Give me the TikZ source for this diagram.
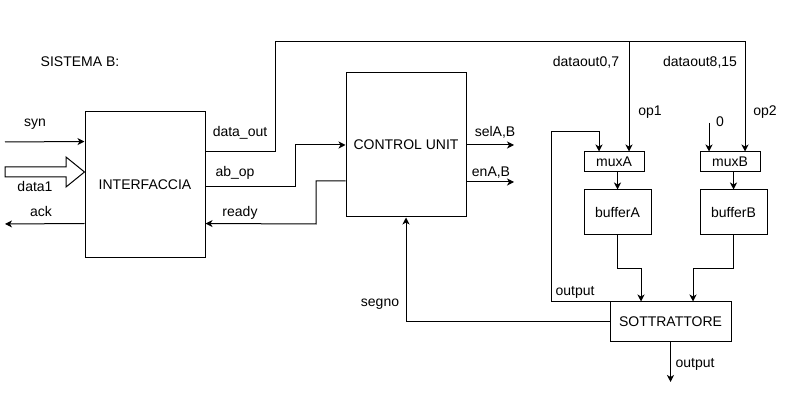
\documentclass[tikz,border=0pt]{standalone}
\usepackage{fontspec}
\setmainfont{Liberation Sans}
\usetikzlibrary{arrows.meta}
\begin{document}
\begin{tikzpicture}[x=1pt,y=-1pt,
  every node/.style={font=\fontsize{14}{16}\selectfont},
  box/.style={draw,line width=1pt,rectangle,inner sep=0pt,text height=10pt,text depth=0pt},
  lbl/.style={anchor=base,inner sep=0pt},
  wire/.style={line width=1pt},
  arr/.style={line width=1pt,-{Stealth[length=7pt,width=7pt,inset=2pt]}}]
\useasboundingbox (0,0) rectangle (795,411);
% blocks
\node[box,minimum width=120pt,minimum height=146pt] (intf) at (145,185) {INTERFACCIA};
\node[box,minimum width=120pt,minimum height=144pt] (cu) at (406,145) {CONTROL UNIT};
\node[box,minimum width=60pt,minimum height=20pt] (muxA) at (614,162) {muxA};
\node[box,minimum width=60pt,minimum height=20pt] (muxB) at (730,162) {muxB};
\node[box,minimum width=67pt,minimum height=45pt] (bufA) at (617.5,212.5) {bufferA};
\node[box,minimum width=67pt,minimum height=45pt] (bufB) at (733.5,212.5) {bufferB};
\node[box,minimum width=121pt,minimum height=40pt] (sott) at (670.5,322) {SOTTRATTORE};
% free ends
\coordinate (synin) at (5,142);
\coordinate (ackout) at (5,224);
\coordinate (selout) at (514,145);
\coordinate (enout) at (514,182);
\coordinate (zeroin) at (709,123);
\coordinate (outend) at (670.5,382);
% labels
\node[lbl] (tsis) at (80,67) {SISTEMA B:};
\node[lbl] (tsyn) at (35,127) {syn};
\node[lbl] (tdata1) at (35,192) {data1};
\node[lbl] (tack) at (41,217) {ack};
\node[lbl] (tdo) at (240,137) {data\_out};
\node[lbl] (tab) at (235,177) {ab\_op};
\node[lbl] (trdy) at (240,217) {ready};
\node[lbl] (tsel) at (495,137) {selA,B};
\node[lbl] (ten) at (491,177) {enA,B};
\node[lbl] (td07) at (586,67) {dataout0,7};
\node[lbl] (td815) at (700,67) {dataout8,15};
\node[lbl] (top1) at (650,116) {op1};
\node[lbl] (top2) at (765,116) {op2};
\node[lbl] (tzero) at (720,127) {0};
\node[lbl] (tout1) at (575,296) {output};
\node[lbl] (tsegno) at (380,307) {segno};
\node[lbl] (tout2) at (695,367) {output};
% inputs / outputs of interfaccia
\draw[arr] (synin) -- ([yshift=-30pt]intf.north west);
\draw[arr] ([yshift=-112pt]intf.north west) -- (ackout);
\draw[line width=1pt,fill=white] (5,167) -- (66,167) -- (66,157) -- (intf.west |- 0,172) -- (66,187) -- (66,177) -- (5,177) -- cycle;
% data_out bus
\draw[arr] ([yshift=-40pt]intf.north east) -| (275,42) -| ([xshift=15pt]muxB.north);
\draw[arr] (629,42) -- ([xshift=15pt]muxA.north);
% ab_op and ready
\draw[arr] ([yshift=-75pt]intf.north east) -| (295,145) -- (cu.west);
\draw[arr] ([yshift=-36pt]cu.west) -| (316,224) -- ([yshift=-112pt]intf.north east);
% control outputs
\draw[arr] (cu.east) -- (selout);
\draw[arr] ([yshift=-37pt]cu.east) -- (enout);
% muxes
\draw[arr] (zeroin) -- ([xshift=-21pt]muxB.north);
\draw[arr] (sott.north west) -| (551,132) -| ([xshift=-15pt]muxA.north);
\draw[arr] (bufA.north |- muxA.south) -- (bufA.north);
\draw[arr] (bufB.north |- muxB.south) -- (bufB.north);
% buffers to sottrattore
\draw[arr] (bufA.south) |- (641,269) -- ([xshift=-29.5pt]sott.north);
\draw[arr] (bufB.south) |- (693,269) -- ([xshift=22.5pt]sott.north);
% sottrattore outputs
\draw[arr] (sott.south) -- (outend);
\draw[arr] (sott.west) -| (cu.south);
\end{tikzpicture}
\end{document}
